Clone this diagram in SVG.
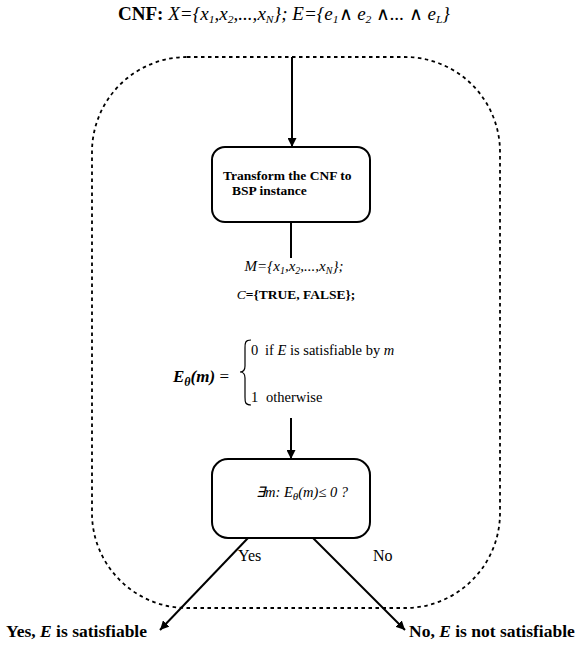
<svg xmlns="http://www.w3.org/2000/svg" width="587" height="647" viewBox="0 0 587 647">
<style>
text{font-family:"Liberation Serif","Times New Roman",serif;fill:#000}
.b{font-weight:bold}
.i{font-style:italic}
.n{font-weight:normal}
.box{fill:#fff;stroke:#000;stroke-width:2}
.conn{stroke:#000;stroke-width:2;fill:none}
.dash{fill:none;stroke:#000;stroke-width:1.8;stroke-dasharray:3.5 3.5}
</style>
<defs>
<marker id="ah" viewBox="0 0 10 10" refX="10" refY="5" markerWidth="9" markerHeight="9" markerUnits="userSpaceOnUse" orient="auto">
<path d="M0,0 L10,5 L0,10 z" fill="#000"/>
</marker>
</defs>
<rect fill="#fff" width="587" height="647"/>

<g id="title">
<text x="118" y="20" font-size="18" textLength="332" lengthAdjust="spacingAndGlyphs"><tspan class="b">CNF: </tspan><tspan class="i">X={x</tspan><tspan class="i" font-size="11" dy="3">1</tspan><tspan class="i" dy="-3">,x</tspan><tspan class="i" font-size="11" dy="3">2</tspan><tspan class="i" dy="-3">,...,x</tspan><tspan class="i" font-size="11" dy="3">N</tspan><tspan class="i" dy="-3">}; E={e</tspan><tspan class="i" font-size="11" dy="3">1</tspan><tspan dy="-3">∧ </tspan><tspan class="i">e</tspan><tspan class="i" font-size="11" dy="3">2</tspan><tspan dy="-3"> ∧</tspan><tspan class="i">... </tspan><tspan>∧ </tspan><tspan class="i">e</tspan><tspan class="i" font-size="11" dy="3">L</tspan><tspan class="i" dy="-3">}</tspan></text>
</g>

<g id="container">
<rect class="dash" x="92" y="57" width="408" height="551" rx="95" ry="95"/>
</g>

<g id="connectors">
<line class="conn" x1="292" y1="57" x2="292" y2="147" marker-end="url(#ah)"/>
<line class="conn" x1="291" y1="222" x2="291" y2="258"/>
<line class="conn" x1="291" y1="418" x2="291" y2="459" marker-end="url(#ah)"/>
<line class="conn" x1="248" y1="538" x2="160" y2="630" marker-end="url(#ah)"/>
<line class="conn" x1="313" y1="538" x2="405" y2="630" marker-end="url(#ah)"/>
<text x="238" y="561" font-size="16">Yes</text>
<text x="373" y="561" font-size="16">No</text>
</g>

<g id="transform">
<rect class="box" x="212" y="147" width="158" height="75" rx="13" ry="13"/>
<text x="223" y="180" font-size="13.5" class="b">Transform the CNF to</text>
<text x="232" y="195" font-size="13.5" class="b">BSP instance</text>
</g>

<g id="model">
<text x="294" y="271" font-size="15" class="i" text-anchor="middle">M={x<tspan font-size="10" dy="3">1</tspan><tspan dy="-3">,x</tspan><tspan font-size="10" dy="3">2</tspan><tspan dy="-3">,...,x</tspan><tspan font-size="10" dy="3">N</tspan><tspan dy="-3">};</tspan></text>
<text x="296" y="299" font-size="13.5" text-anchor="middle"><tspan class="i">C</tspan><tspan class="b">={TRUE, FALSE};</tspan></text>
<text x="173" y="382" font-size="17" class="b i">E<tspan font-size="12" dy="4">θ</tspan><tspan dy="-4">(m)</tspan><tspan class="n" font-style="normal"> =</tspan></text>
<path d="M251,340 C245,340 245,343 245,348 L245,366 C245,370 243,372 240,372 C243,372 245,374 245,378 L245,397 C245,402 245,405 251,405" fill="none" stroke="#000" stroke-width="1.2"/>
<text x="251" y="355" font-size="14.5">0<tspan x="265">if </tspan><tspan class="i">E</tspan> is satisfiable by <tspan class="i">m</tspan></text>
<text x="251" y="402" font-size="14.5">1<tspan x="266">otherwise</tspan></text>
</g>

<g id="decision">
<rect class="box" x="212" y="459" width="158" height="79" rx="16" ry="16"/>
<text x="256" y="497" font-size="14.5" class="i">∃m: E<tspan font-size="11" dy="3">θ</tspan><tspan dy="-3">(m)≤ 0 ?</tspan></text>
</g>

<g id="yes">
<text x="6" y="637" font-size="17.5" class="b">Yes, <tspan class="i">E</tspan> is satisfiable</text>
</g>
<g id="no">
<text x="409" y="637" font-size="17.5" class="b">No, <tspan class="i">E</tspan> is not satisfiable</text>
</g>
</svg>
